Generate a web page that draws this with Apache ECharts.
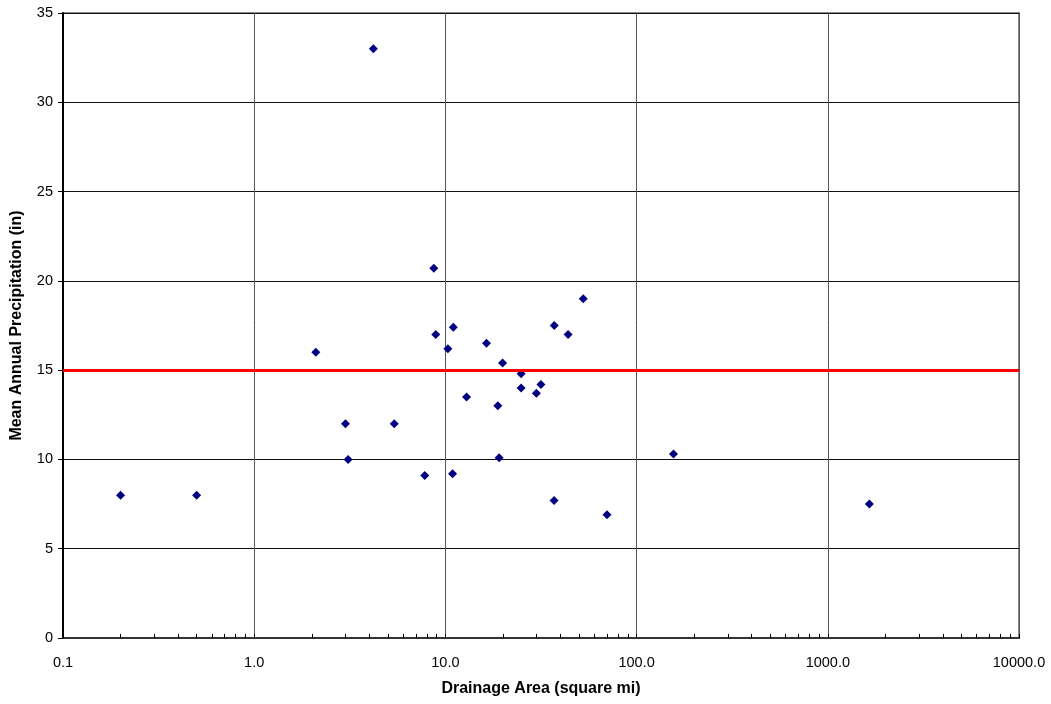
<!DOCTYPE html>
<html>
<head>
<meta charset="utf-8">
<title>Mean Annual Precipitation vs Drainage Area</title>
<script src="https://cdn.jsdelivr.net/npm/echarts@6/dist/echarts.min.js"></script>
<style>
  html, body { margin: 0; padding: 0; background: #fff; }
  #chart { width: 1051px; height: 704px; }
</style>
</head>
<body>
<div id="chart"></div>
<script>
// drainage area (square mi) and mean annual precipitation (in)
const areas = [0.2, 0.5, 2.1, 3.0, 3.1, 4.2, 5.4, 7.8, 8.7, 8.9,
               10.3, 11.0, 10.9, 12.9, 16.4, 18.8, 19.1, 19.9, 24.9, 24.9,
               29.9, 31.6, 37.1, 37.0, 43.8, 52.6, 70.0, 156, 1650]
const precip = [8.0, 8.0, 16.0, 12.0, 10.0, 33.0, 12.0, 9.1, 20.7, 17.0,
                16.2, 17.4, 9.2, 13.5, 16.5, 13.0, 10.1, 15.4, 14.8, 14.0,
                13.7, 14.2, 17.5, 7.7, 17.0, 19.0, 6.9, 10.3, 7.5]
const refLevel = 15

const xMin = 0.1, xMax = 10000
const yMin = 0, yMax = 35, yStep = 5

// minor tick positions 2..9 within each decade
const minorTicks = []
for (let d = xMin; d < xMax; d *= 10) {
  for (let k = 1; k <= 10; k++) minorTicks.push(+(d * k).toPrecision(3))
}

const labelFont = { color: '#000', fontSize: 14.5, fontFamily: 'Liberation Sans, Arial, sans-serif' }
const titleFont = { color: '#000', fontSize: 16, fontWeight: 'bold', fontFamily: 'Liberation Sans, Arial, sans-serif' }

const chart = echarts.init(document.getElementById('chart'), null, { renderer: 'canvas' })

chart.setOption({
  animation: false,
  backgroundColor: '#fff',
  grid: {
    left: 63, top: 13, right: 32, bottom: 66,
    show: true, borderColor: '#888', borderWidth: 2, backgroundColor: 'transparent'
  },
  xAxis: [{
    type: 'log',
    logBase: 10,
    min: xMin,
    max: xMax,
    name: 'Drainage Area (square mi)',
    nameLocation: 'middle',
    nameGap: 43,
    nameTextStyle: titleFont,
    axisLine: { show: true, onZero: false, lineStyle: { color: '#333', width: 2 } },
    axisTick: { show: false },
    axisLabel: { ...labelFont, margin: 17, formatter: v => Number(v).toFixed(1) },
    splitLine: { show: true, lineStyle: { color: '#555', width: 1 } }
  }, {
    type: 'log',
    logBase: 10,
    min: xMin,
    max: xMax,
    position: 'bottom',
    axisLine: { show: false },
    axisLabel: { show: false },
    splitLine: { show: false },
    axisTick: { show: true, inside: true, length: 4, customValues: minorTicks, lineStyle: { color: '#000', width: 1 } }
  }],
  yAxis: {
    type: 'value',
    min: yMin,
    max: yMax,
    interval: yStep,
    name: 'Mean Annual Precipitation (in)',
    nameLocation: 'middle',
    nameGap: 38,
    nameTextStyle: titleFont,
    axisLine: { show: true, lineStyle: { color: '#000', width: 2 } },
    axisTick: { show: true, inside: false, length: 5, lineStyle: { color: '#000' } },
    axisLabel: { ...labelFont, margin: 10 },
    splitLine: { show: true, lineStyle: { color: '#111', width: 1 } }
  },
  series: [{
    type: 'scatter',
    xAxisIndex: 0,
    symbol: 'diamond',
    symbolSize: 9,
    itemStyle: { color: '#000080', opacity: 1 },
    data: areas.map((a, i) => [a, precip[i]]),
    markLine: {
      silent: true,
      symbol: 'none',
      label: { show: false },
      lineStyle: { color: '#ff0000', width: 3, type: 'solid' },
      data: [{ yAxis: refLevel }]
    }
  }]
})
</script>
</body>
</html>
